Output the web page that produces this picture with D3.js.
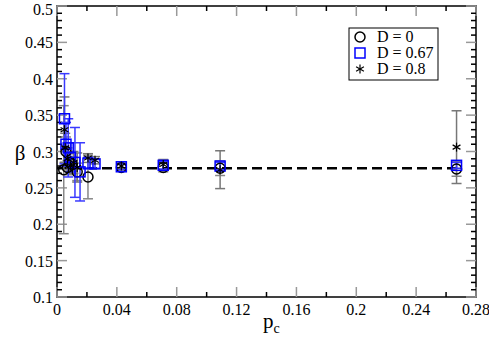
<!DOCTYPE html>
<html lang="en">
<head>
<meta charset="UTF-8" />
<script src="https://d3js.org/d3.v7.min.js"></script>
<style>
  body { margin: 0; background: #fff; }
  svg { display: block; font-family: "Liberation Serif", "DejaVu Serif", serif; }
</style>
</head>
<body>
<svg width="489" height="337"></svg>
<script>
// ---- data ----
var pcD0   = [0.0045, 0.006, 0.007, 0.0085, 0.010, 0.0135, 0.0207, 0.043, 0.071, 0.109, 0.267];
var betaD0 = [0.275, 0.300, 0.278, 0.285, 0.283, 0.272, 0.265, 0.278, 0.278, 0.277, 0.276];
var errD0  = [0.088, 0.02, 0.01, 0.012, 0.01, 0.012, 0.03, 0.004, 0.006, 0.01, 0.01];

var pcD067   = [0.005, 0.006, 0.0075, 0.009, 0.012, 0.0154, 0.0207, 0.0254, 0.043, 0.071, 0.109, 0.267];
var betaD067 = [0.345, 0.310, 0.305, 0.292, 0.285, 0.272, 0.284, 0.283, 0.279, 0.281, 0.280, 0.281];
var errD067  = [0.062, 0.03, 0.04, 0.02, 0.048, 0.04, 0.008, 0.006, 0.004, 0.005, 0.005, 0.004];

var pcD08   = [0.005, 0.0055, 0.007, 0.009, 0.011, 0.0135, 0.0207, 0.0254, 0.043, 0.071, 0.109, 0.267];
var betaD08 = [0.330, 0.305, 0.290, 0.280, 0.285, 0.278, 0.291, 0.288, 0.280, 0.282, 0.275, 0.306];
var errD08  = [0.045, 0.02, 0.015, 0.01, 0.015, 0.02, 0.006, 0.005, 0.004, 0.007, 0.026, 0.05];

var fitBeta = 0.277;
var fitRange = [0.0, 0.267];

var xTicks = [0, 0.04, 0.08, 0.12, 0.16, 0.2, 0.24, 0.28];
var yTicks = [0.1, 0.15, 0.2, 0.25, 0.3, 0.35, 0.4, 0.45, 0.5];
var legendLabels = ["D = 0", "D = 0.67", "D = 0.8"];

// ---- layout ----
var pL = 57, pR = 476, pT = 6, pB = 297;
var svg = d3.select("svg");

var x = d3.scaleLinear().domain([0, 0.28]).range([pL, pR]);
var y = d3.scaleLinear().domain([0.1, 0.5]).range([pB, pT]);

// frame
svg.append("rect")
  .attr("x", pL).attr("y", pT)
  .attr("width", pR - pL).attr("height", pB - pT)
  .attr("fill", "none").attr("stroke", "#000").attr("stroke-width", 1.5);

// ticks (inward, all four sides)
var xMinor = d3.range(0, 0.2801, 0.02);
var yMinor = d3.range(0.1, 0.5001, 0.01);
function isMajor(v, step) { return Math.abs(v / step - Math.round(v / step)) < 1e-6; }

var tk = svg.append("g");
xMinor.forEach(function(v) {
  var maj = isMajor(v, 0.04);
  var len = maj ? 10 : 5;
  var col = maj ? "#999" : "#000";
  tk.append("line").attr("x1", x(v)).attr("x2", x(v)).attr("y1", pB).attr("y2", pB - len)
    .attr("stroke", col).attr("stroke-width", 1.5);
  tk.append("line").attr("x1", x(v)).attr("x2", x(v)).attr("y1", pT).attr("y2", pT + len)
    .attr("stroke", col).attr("stroke-width", 1.5);
});
yMinor.forEach(function(v) {
  var maj = isMajor(v, 0.05);
  var len = maj ? 10 : 5;
  var col = maj ? "#999" : "#000";
  tk.append("line").attr("x1", pL).attr("x2", pL + len).attr("y1", y(v)).attr("y2", y(v))
    .attr("stroke", col).attr("stroke-width", 1.5);
  tk.append("line").attr("x1", pR).attr("x2", pR - len).attr("y1", y(v)).attr("y2", y(v))
    .attr("stroke", col).attr("stroke-width", 1.5);
});

// tick labels
svg.append("g").selectAll("text").data(xTicks).enter().append("text")
  .attr("x", function(d) { return x(d); })
  .attr("y", pB + 18)
  .attr("text-anchor", "middle")
  .style("font-size", "16px")
  .text(function(d) { return d3.format("")(d); });

svg.append("g").selectAll("text").data(yTicks).enter().append("text")
  .attr("x", pL - 4)
  .attr("y", function(d) { return Math.max(y(d) + 6, 15); })
  .attr("text-anchor", "end")
  .style("font-size", "16px")
  .text(function(d) { return d3.format("")(d); });

// axis titles
svg.append("text").attr("x", 20).attr("y", 160)
  .attr("text-anchor", "middle").style("font-size", "21px").text("β");
var xt = svg.append("text").attr("x", 263).attr("y", 328).style("font-size", "21px");
xt.append("tspan").text("p");
xt.append("tspan").attr("dy", 5).style("font-size", "14px").text("c");

// dashed fit line
svg.append("line")
  .attr("x1", x(fitRange[0])).attr("x2", x(fitRange[1]))
  .attr("y1", y(fitBeta)).attr("y2", y(fitBeta))
  .attr("stroke", "#000").attr("stroke-width", 2.5).attr("stroke-dasharray", "10,5");

// error bars
function errBars(pc, beta, err, color) {
  var g = svg.append("g");
  pc.forEach(function(p, i) {
    var cx = x(p), y1 = y(beta[i] + err[i]), y2 = y(beta[i] - err[i]);
    g.append("line").attr("x1", cx).attr("x2", cx).attr("y1", y1).attr("y2", y2)
      .attr("stroke", color).attr("stroke-width", 1.5);
    [y1, y2].forEach(function(yy) {
      g.append("line").attr("x1", cx - 5).attr("x2", cx + 5).attr("y1", yy).attr("y2", yy)
        .attr("stroke", color).attr("stroke-width", 1.5);
    });
  });
}
errBars(pcD0, betaD0, errD0, "#888");
errBars(pcD08, betaD08, errD08, "#777");
errBars(pcD067, betaD067, errD067, "#3a3aff");

// markers
function circle(g, cx, cy) {
  g.append("circle").attr("cx", cx).attr("cy", cy).attr("r", 5)
    .attr("fill", "none").attr("stroke", "#000").attr("stroke-width", 1.5);
}
function square(g, cx, cy) {
  g.append("rect").attr("x", cx - 5).attr("y", cy - 5).attr("width", 10).attr("height", 10)
    .attr("fill", "none").attr("stroke", "#0000ff").attr("stroke-width", 1.5);
}
function star(g, cx, cy) {
  var r = 4.5;
  [90, 30, 150].forEach(function(a) {
    var rad = a * Math.PI / 180;
    g.append("line")
      .attr("x1", cx - r * Math.cos(rad)).attr("y1", cy - r * Math.sin(rad))
      .attr("x2", cx + r * Math.cos(rad)).attr("y2", cy + r * Math.sin(rad))
      .attr("stroke", "#000").attr("stroke-width", 1.2);
  });
}

var mk = svg.append("g");
pcD0.forEach(function(p, i) { circle(mk, x(p), y(betaD0[i])); });
pcD067.forEach(function(p, i) { square(mk, x(p), y(betaD067[i])); });
pcD08.forEach(function(p, i) { star(mk, x(p), y(betaD08[i])); });

// legend
var lg = svg.append("g");
lg.append("rect").attr("x", 349).attr("y", 28).attr("width", 89).attr("height", 52)
  .attr("fill", "#fff").attr("stroke", "#000").attr("stroke-width", 1);
var drawers = [circle, square, star];
legendLabels.forEach(function(t, i) {
  var yy = 37 + i * 16;
  var sg = lg.append("g");
  drawers[i](sg, 360, yy);
  lg.append("text").attr("x", 377).attr("y", yy + 5).style("font-size", "16px").text(t);
});
</script>
</body>
</html>
